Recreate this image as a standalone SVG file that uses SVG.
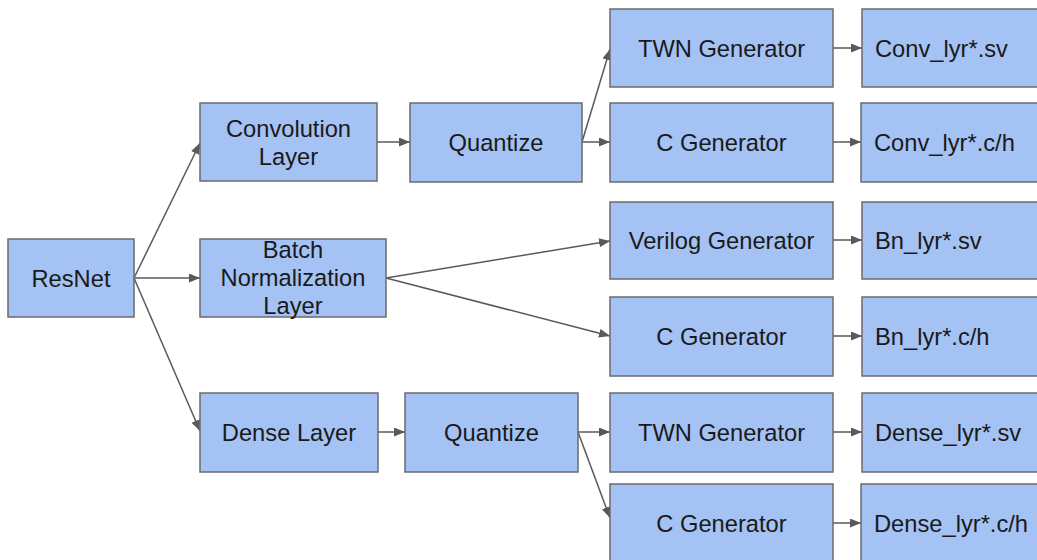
<svg xmlns="http://www.w3.org/2000/svg" width="1037" height="560" viewBox="0 0 1037 560">
  <defs>
    <marker id="arrow" markerUnits="userSpaceOnUse" markerWidth="12" markerHeight="10" refX="11" refY="4.5" orient="auto">
      <path d="M0,0 L11,4.5 L0,9 z" fill="#595959"/>
    </marker>
    <style>
      .box { fill: #a4c2f4; stroke: #6b6b6b; stroke-width: 1.5; }
      .lbl { font-family: "Liberation Sans", Arial, sans-serif; font-size: 23.7px; fill: #1a1a1a; }
      .c { text-anchor: middle; }
      .l { text-anchor: start; }
      .edge { fill: none; stroke: #595959; stroke-width: 1.5; marker-end: url(#arrow); }
    </style>
  </defs>
  <rect width="1037" height="560" fill="#ffffff"/>

  <!-- connectors -->
  <g id="connectors">
    <line class="edge" x1="134" y1="278" x2="200" y2="143"/>
    <line class="edge" x1="134" y1="278" x2="200" y2="278"/>
    <line class="edge" x1="134" y1="278" x2="200" y2="431"/>
    <line class="edge" x1="377" y1="142" x2="410" y2="142"/>
    <line class="edge" x1="582" y1="142" x2="610" y2="49"/>
    <line class="edge" x1="582" y1="142" x2="610" y2="142"/>
    <line class="edge" x1="833" y1="48" x2="862" y2="48"/>
    <line class="edge" x1="833" y1="142" x2="861" y2="142"/>
    <line class="edge" x1="386" y1="278" x2="610" y2="241"/>
    <line class="edge" x1="386" y1="278" x2="610" y2="336"/>
    <line class="edge" x1="833" y1="240" x2="862" y2="240"/>
    <line class="edge" x1="833" y1="336" x2="862" y2="336"/>
    <line class="edge" x1="378" y1="432" x2="405" y2="432"/>
    <line class="edge" x1="578" y1="432" x2="610" y2="432"/>
    <line class="edge" x1="578" y1="432" x2="610" y2="518"/>
    <line class="edge" x1="833" y1="432" x2="862" y2="432"/>
    <line class="edge" x1="833" y1="523" x2="861" y2="523"/>
  </g>

  <!-- nodes -->
  <g id="resnet">
    <rect class="box" x="8" y="239" width="126" height="78"/>
    <text class="lbl c" x="71" y="286.5">ResNet</text>
  </g>
  <g id="conv-layer">
    <rect class="box" x="200" y="103" width="177" height="78"/>
    <text class="lbl c" x="288.5" y="137">Convolution</text>
    <text class="lbl c" x="288.5" y="165">Layer</text>
  </g>
  <g id="bn-layer">
    <rect class="box" x="200" y="239" width="186" height="78"/>
    <text class="lbl c" x="293" y="258">Batch</text>
    <text class="lbl c" x="293" y="286">Normalization</text>
    <text class="lbl c" x="293" y="314">Layer</text>
  </g>
  <g id="dense-layer">
    <rect class="box" x="200" y="393" width="178" height="79"/>
    <text class="lbl c" x="289" y="441">Dense Layer</text>
  </g>
  <g id="quantize-conv">
    <rect class="box" x="410" y="103" width="172" height="79"/>
    <text class="lbl c" x="496" y="151">Quantize</text>
  </g>
  <g id="quantize-dense">
    <rect class="box" x="405" y="393" width="173" height="79"/>
    <text class="lbl c" x="491.5" y="441">Quantize</text>
  </g>
  <g id="twn-gen-conv">
    <rect class="box" x="610" y="9" width="223" height="78"/>
    <text class="lbl c" x="721.5" y="56.5">TWN Generator</text>
  </g>
  <g id="c-gen-conv">
    <rect class="box" x="610" y="103" width="223" height="79"/>
    <text class="lbl c" x="721.5" y="151">C Generator</text>
  </g>
  <g id="verilog-gen-bn">
    <rect class="box" x="610" y="202" width="223" height="77"/>
    <text class="lbl c" x="721.5" y="249">Verilog Generator</text>
  </g>
  <g id="c-gen-bn">
    <rect class="box" x="610" y="297" width="223" height="79"/>
    <text class="lbl c" x="721.5" y="345">C Generator</text>
  </g>
  <g id="twn-gen-dense">
    <rect class="box" x="610" y="393" width="223" height="79"/>
    <text class="lbl c" x="721.5" y="441">TWN Generator</text>
  </g>
  <g id="c-gen-dense">
    <rect class="box" x="610" y="484" width="223" height="80"/>
    <text class="lbl c" x="721.5" y="532">C Generator</text>
  </g>
  <g id="conv-sv">
    <rect class="box" x="862" y="9" width="190" height="78"/>
    <text class="lbl l" x="875" y="56.5">Conv_lyr*.sv</text>
  </g>
  <g id="conv-ch">
    <rect class="box" x="861" y="103" width="190" height="79"/>
    <text class="lbl l" x="874" y="151">Conv_lyr*.c/h</text>
  </g>
  <g id="bn-sv">
    <rect class="box" x="862" y="202" width="190" height="77"/>
    <text class="lbl l" x="875" y="249">Bn_lyr*.sv</text>
  </g>
  <g id="bn-ch">
    <rect class="box" x="862" y="297" width="190" height="79"/>
    <text class="lbl l" x="875" y="345">Bn_lyr*.c/h</text>
  </g>
  <g id="dense-sv">
    <rect class="box" x="862" y="393" width="190" height="79"/>
    <text class="lbl l" x="875" y="441">Dense_lyr*.sv</text>
  </g>
  <g id="dense-ch">
    <rect class="box" x="861" y="484" width="190" height="80"/>
    <text class="lbl l" x="874" y="532">Dense_lyr*.c/h</text>
  </g>
</svg>
